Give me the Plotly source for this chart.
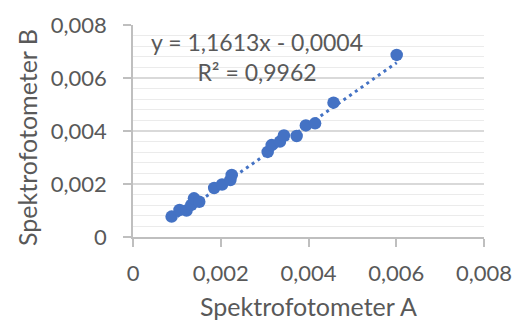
import plotly.graph_objects as go
import numpy as np

# Data
spektro_a = [0.00088, 0.00106, 0.00122, 0.00133, 0.00139, 0.00151, 0.00185, 0.00203,
             0.00222, 0.00225, 0.00307, 0.00316, 0.00335, 0.00344, 0.00373, 0.00394,
             0.00415, 0.00457, 0.00601]
spektro_b = [0.00077, 0.00102, 0.00100, 0.00121, 0.00146, 0.00133, 0.00185, 0.00198,
             0.00215, 0.00234, 0.00321, 0.00347, 0.00360, 0.00383, 0.00381, 0.00421,
             0.00429, 0.00507, 0.00687]

trend_slope = 1.1613
trend_intercept = -0.0004
r_squared_text = "0,9962"
equation_text = "y = 1,1613x - 0,0004"

tick_vals = [0, 0.002, 0.004, 0.006, 0.008]
tick_text = ["0", "0,002", "0,004", "0,006", "0,008"]

x_title = "Spektrofotometer A"
y_title = "Spektrofotometer B"

BLUE = "#4472C4"
TXT = "#595959"
FONT = "Lato, 'Open Sans', sans-serif"

tx = np.array([min(spektro_a), max(spektro_a)])
ty = trend_slope * tx + trend_intercept

fig = go.Figure()
fig.add_trace(go.Scatter(
    x=tx, y=ty, mode="lines",
    line=dict(color=BLUE, width=3, dash="3px,4px"),
    hoverinfo="skip", showlegend=False))
fig.add_trace(go.Scatter(
    x=spektro_a, y=spektro_b, mode="markers",
    marker=dict(color=BLUE, size=12.5, line=dict(width=0)),
    showlegend=False))

fig.add_annotation(
    x=0.00283, y=0.0068, xref="x", yref="y",
    text=equation_text + "<br>R² = " + r_squared_text,
    showarrow=False, align="center",
    font=dict(family=FONT, size=23, color=TXT))

# axis titles
fig.add_annotation(
    x=0.5, y=0, xref="paper", yref="paper", yshift=-69,
    xanchor="center", yanchor="middle", text=x_title, showarrow=False,
    font=dict(family=FONT, size=25, color=TXT))
fig.add_annotation(
    x=-0.302, y=0.472, xref="paper", yref="paper", textangle=-90,
    xanchor="center", yanchor="middle", text=y_title, showarrow=False,
    font=dict(family=FONT, size=25, color=TXT))

fig.update_layout(
    width=515, height=324,
    margin=dict(l=133, r=31, t=25, b=87, autoexpand=False),
    paper_bgcolor="white", plot_bgcolor="white",
    font=dict(family=FONT, color=TXT, size=22),
)
fig.update_xaxes(
    range=[0, 0.008], tickvals=tick_vals, ticktext=tick_text,
    showgrid=False, zeroline=False, automargin=False,
    showline=True, linecolor="#BFBFBF", linewidth=1.5,
    ticks="outside", ticklen=8, tickcolor="#BFBFBF", tickwidth=1.5,
    tickfont=dict(size=22, color=TXT), ticklabelstandoff=8,
)
fig.update_yaxes(
    range=[0, 0.008], tickvals=tick_vals, ticktext=tick_text,
    showgrid=True, gridcolor="#D9D9D9", gridwidth=1.5,
    minor=dict(dtick=0.0004, showgrid=True, gridcolor="#EBEBEB", gridwidth=1),
    zeroline=False, automargin=False,
    showline=True, linecolor="#BFBFBF", linewidth=1.5,
    ticks="outside", ticklen=8, tickcolor="#BFBFBF", tickwidth=1.5,
    tickfont=dict(size=22, color=TXT), ticklabelstandoff=12,
)

fig.write_html("out.html")
